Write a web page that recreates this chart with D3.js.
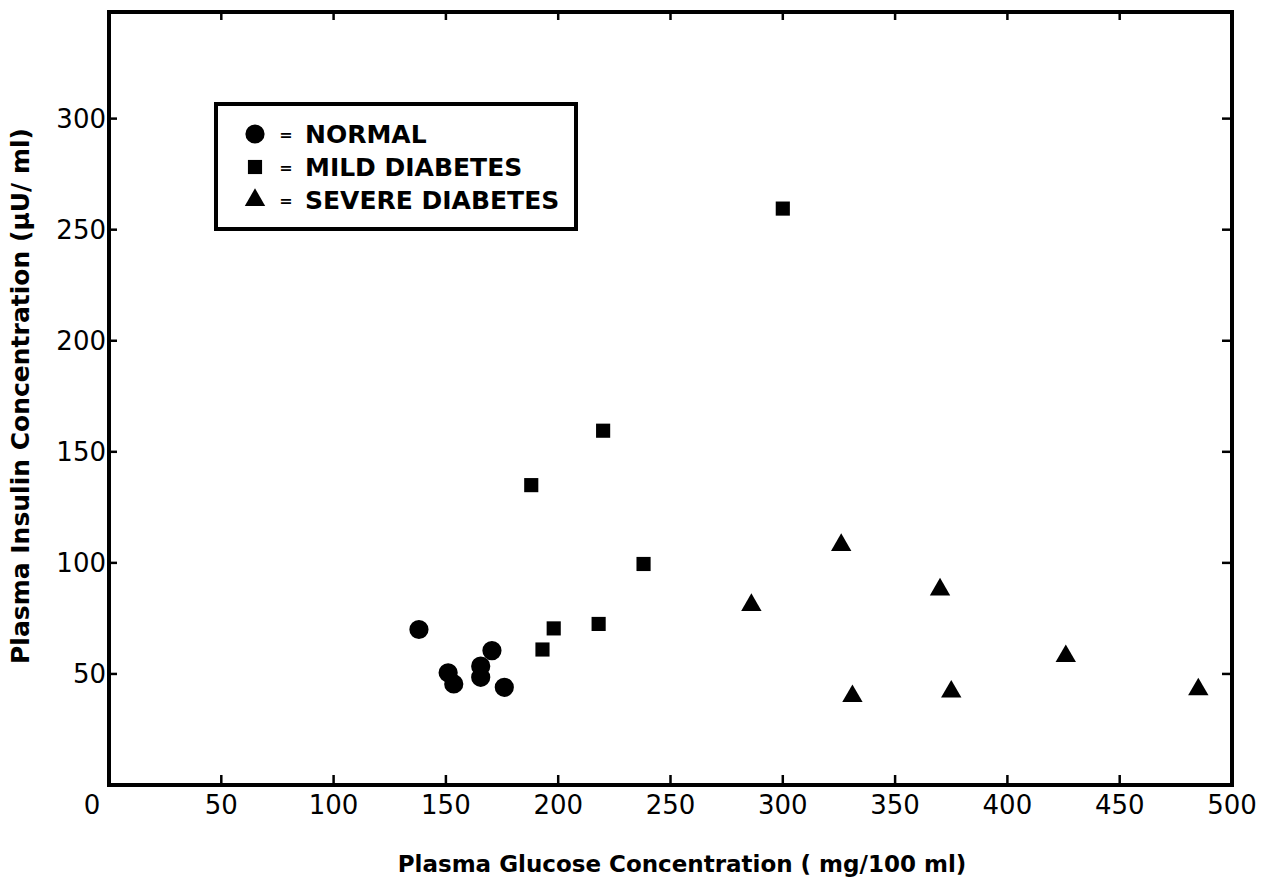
<!DOCTYPE html>
<html lang="en">
<head>
<meta charset="UTF-8">
<title>Plasma insulin vs glucose</title>
<script src="https://d3js.org/d3.v7.min.js"></script>
<style>
  body { margin: 0; background: #fff; }
  text { font-family: "DejaVu Sans", sans-serif; fill: #000; }
  .tick-label { font-size: 26px; }
  .axis-title { font-weight: bold; }
  .legend-text { font-size: 25px; font-weight: bold; }
</style>
</head>
<body>
<div id="chart"></div>
<script>
// data (glucose mg/100ml, insulin uU/ml)
var normalX = [138, 151, 153.5, 165.5, 165.5, 170.5, 176];
var normalY = [70, 50.5, 45.5, 53.5, 48.5, 60.5, 44];
var mildX = [188, 193, 198, 218, 220, 238, 300];
var mildY = [135, 61, 70.5, 72.5, 159.5, 99.5, 259.5];
var severeX = [286, 326, 331, 370, 375, 426, 485];
var severeY = [81, 108, 40, 88, 42, 58, 43];

var xTicks = [0, 50, 100, 150, 200, 250, 300, 350, 400, 450, 500];
var yTicks = [50, 100, 150, 200, 250, 300];
var legendLabels = ["NORMAL", "MILD DIABETES", "SEVERE DIABETES"];

var width = 1270, height = 885;
var margin = { top: 12, right: 38, bottom: 100, left: 109 };

var svg = d3.select("#chart").append("svg")
  .attr("width", width)
  .attr("height", height);

var x = d3.scaleLinear().domain([0, 500]).range([margin.left, width - margin.right]);
var y = d3.scaleLinear().domain([0, 348]).range([height - margin.bottom, margin.top]);

// frame
svg.append("rect")
  .attr("x", x(0)).attr("y", y(348))
  .attr("width", x(500) - x(0)).attr("height", y(0) - y(348))
  .attr("fill", "none").attr("stroke", "#000").attr("stroke-width", 4);

// tick marks (inward) on all four sides
var g = svg.append("g").attr("stroke", "#000").attr("stroke-width", 2.5);
xTicks.slice(1, -1).forEach(function (t) {
  g.append("line").attr("x1", x(t)).attr("x2", x(t)).attr("y1", y(0)).attr("y2", y(0) - 10);
  g.append("line").attr("x1", x(t)).attr("x2", x(t)).attr("y1", y(348)).attr("y2", y(348) + 8);
});
yTicks.forEach(function (t) {
  g.append("line").attr("x1", x(0)).attr("x2", x(0) + 8).attr("y1", y(t)).attr("y2", y(t));
  g.append("line").attr("x1", x(500)).attr("x2", x(500) - 10).attr("y1", y(t)).attr("y2", y(t));
});

// tick labels
svg.append("g").selectAll("text").data(xTicks).join("text")
  .attr("class", "tick-label")
  .attr("x", function (d) { return d === 0 ? x(0) - 17 : x(d); })
  .attr("y", y(0) + 29)
  .attr("text-anchor", "middle")
  .text(function (d) { return d; });

svg.append("g").selectAll("text").data(yTicks).join("text")
  .attr("class", "tick-label")
  .attr("x", x(0) - 3)
  .attr("y", function (d) { return y(d); })
  .attr("dy", "0.36em")
  .attr("text-anchor", "end")
  .text(function (d) { return d; });

// axis titles
svg.append("text")
  .attr("class", "axis-title")
  .style("font-size", "23px")
  .attr("x", 682).attr("y", 872)
  .attr("text-anchor", "middle")
  .text("Plasma Glucose Concentration ( mg/100 ml)");

svg.append("text")
  .attr("class", "axis-title")
  .style("font-size", "25px")
  .attr("transform", "translate(29,396) rotate(-90)")
  .attr("text-anchor", "middle")
  .text("Plasma Insulin Concentration (\u03BCU/ ml)");

// symbols
var circle = d3.symbol().type(d3.symbolCircle).size(290);
var square = d3.symbol().type(d3.symbolSquare).size(200);
var triangle = d3.symbol().type(d3.symbolTriangle).size(180);

function drawSeries(xs, ys, sym) {
  svg.append("g").selectAll("path").data(xs).join("path")
    .attr("d", sym)
    .attr("fill", "#000")
    .attr("transform", function (d, i) { return "translate(" + x(d) + "," + y(ys[i]) + ")"; });
}
drawSeries(normalX, normalY, circle);
drawSeries(mildX, mildY, square);
drawSeries(severeX, severeY, triangle);

// legend
var legend = svg.append("g").attr("transform", "translate(216,104)");
legend.append("rect")
  .attr("width", 360).attr("height", 125)
  .attr("fill", "#fff").attr("stroke", "#000").attr("stroke-width", 4);
var syms = [circle, square, triangle];
legendLabels.forEach(function (lab, i) {
  var cy = 30 + i * 33;
  legend.append("path").attr("d", syms[i]).attr("fill", "#000")
    .attr("transform", "translate(39," + cy + ")");
  legend.append("text").attr("x", 70).attr("y", cy).attr("dy", "0.36em")
    .attr("text-anchor", "middle").style("font-size", "16px").style("font-weight", "bold")
    .text("=");
  legend.append("text").attr("class", "legend-text")
    .attr("x", 89).attr("y", cy).attr("dy", "0.36em")
    .text(lab);
});
</script>
</body>
</html>
